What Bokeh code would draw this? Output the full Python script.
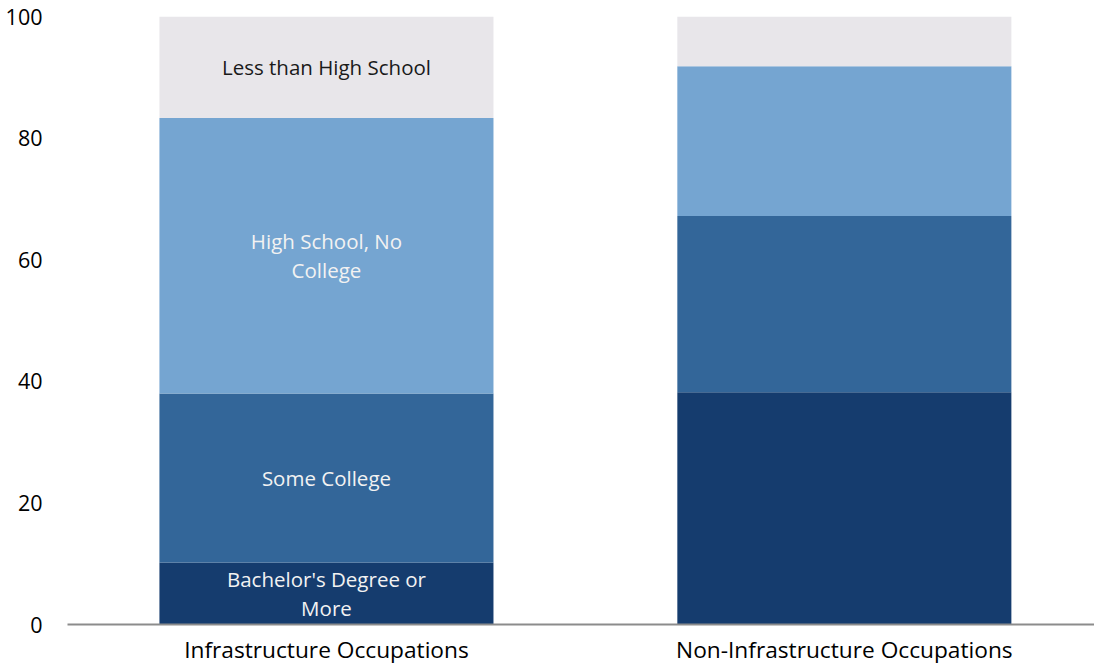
import numpy as np
from bokeh.plotting import figure
from bokeh.models import Range1d, FixedTicker, ColumnDataSource
from bokeh.core.properties import value
from bokeh.embed import file_html
from bokeh.resources import INLINE

categories = ["Infrastructure Occupations", "Non-Infrastructure Occupations"]
levels = ["Bachelor's Degree or More", "Some College", "High School, No College", "Less than High School"]
seg_labels = ["Bachelor's Degree or\nMore", "Some College", "High School, No\nCollege", "Less than High School"]
bachelor = [10.2, 38.2]
some_college = [27.8, 29.0]
high_school = [45.3, 24.6]
less_than_hs = [16.7, 8.2]
colors = ["#153C6E", "#336699", "#75A5D1", "#E8E6EA"]
label_colors = ["#F2F2F2", "#F2F2F2", "#F2F2F2", "#1A1A1A"]
y_ticks = [0, 20, 40, 60, 80, 100]

FONT = "Open Sans"
xpos = [i + 0.5 for i in range(len(categories))]
series = [bachelor, some_college, high_school, less_than_hs]

p = figure(width=1094, height=667, output_backend="svg", toolbar_location=None,
           x_range=Range1d(0, 1.983), y_range=Range1d(0, 100),
           min_border_left=67, min_border_right=0, min_border_top=16, min_border_bottom=43)
p.outline_line_color = None
p.grid.grid_line_color = None
p.background_fill_color = "white"
p.border_fill_color = "white"

data = {"x": xpos}
keys = []
for name, vals in zip(levels, series):
    data[name] = vals
    keys.append(name)
src = ColumnDataSource(data)
p.vbar_stack(keys, x="x", width=0.645, source=src, color=colors, line_color=None)

# segment labels on the first bar
bottoms = np.cumsum([0] + [s[0] for s in series[:-1]])
for lab, b, s, c in zip(seg_labels, bottoms, series, label_colors):
    p.text(x=[xpos[0]], y=[b + s[0] / 2], text=[lab], text_align="center",
           text_baseline="middle", text_font=value(FONT), text_font_size="20.5px",
           text_color=c, text_line_height=1.04)

p.yaxis.ticker = FixedTicker(ticks=y_ticks)
p.yaxis.axis_line_color = None
p.yaxis.major_tick_line_color = None
p.yaxis.minor_tick_line_color = None
p.yaxis.major_tick_out = 0
p.yaxis.major_tick_in = 0
p.yaxis.minor_tick_out = 0
p.yaxis.major_label_text_font = FONT
p.yaxis.major_label_text_font_size = "21.5px"
p.yaxis.major_label_text_color = "#000000"
p.yaxis.major_label_standoff = 25

p.xaxis.ticker = FixedTicker(ticks=xpos)
p.xaxis.major_label_overrides = {x: c for x, c in zip(xpos, categories)}
p.xaxis.axis_line_color = "#8C8C8C"
p.xaxis.axis_line_width = 2
p.xaxis.major_tick_line_color = None
p.xaxis.minor_tick_line_color = None
p.xaxis.major_tick_out = 0
p.xaxis.major_tick_in = 0
p.xaxis.minor_tick_out = 0
p.xaxis.major_label_text_font = FONT
p.xaxis.major_label_text_font_size = "22.7px"
p.xaxis.major_label_text_color = "#000000"
p.xaxis.major_label_standoff = 9

open("out.html", "w").write(file_html(p, INLINE))
